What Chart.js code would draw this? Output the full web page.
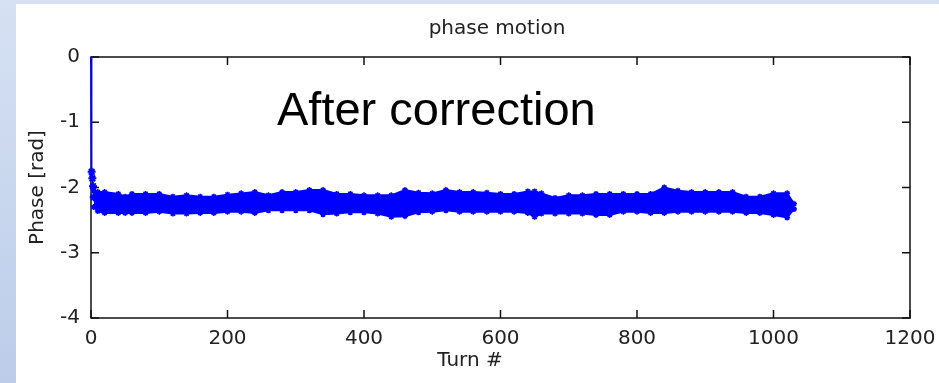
<!DOCTYPE html>
<html>
<head>
<meta charset="utf-8">
<script src="https://cdn.jsdelivr.net/npm/chart.js@4/dist/chart.umd.min.js"></script>
<style>
  html, body { margin: 0; padding: 0; }
  body {
    width: 939px; height: 383px; overflow: hidden;
    background: linear-gradient(180deg, #d6e1f3 0%, #c9d7ee 50%, #bccdea 100%);
  }
  #panel {
    position: absolute; left: 16px; top: 4px;
    width: 923px; height: 379px; background: #fff;
  }
</style>
</head>
<body>
<div id="panel"><canvas id="phaseChart" width="923" height="379"></canvas></div>
<script>
// first few turns, before the phase settles
const startTurns = [0, 1, 2, 3, 4];
const startPhase = [0, -1.76, -1.86, -1.98, -2.15];

// upper / lower edge of the phase band, sampled along the turns
const envTurns = [4, 10, 20, 40, 50, 60, 80, 100, 120, 140, 160, 180, 200, 220, 240,
  260, 280, 300, 320, 340, 360, 380, 400, 420, 440, 460, 480, 500, 520, 540, 560,
  580, 600, 620, 640, 650, 660, 680, 700, 720, 740, 760, 780, 800, 820, 840, 860,
  880, 900, 920, 940, 960, 980, 1000, 1020, 1030];
const phaseUpper = [-2.05, -2.07, -2.07, -2.10, -2.14, -2.10, -2.10, -2.10, -2.14, -2.12,
  -2.14, -2.14, -2.11, -2.09, -2.07, -2.12, -2.07, -2.07, -2.04, -2.04, -2.10, -2.10,
  -2.12, -2.12, -2.12, -2.04, -2.08, -2.09, -2.04, -2.07, -2.07, -2.08, -2.10, -2.10,
  -2.06, -2.06, -2.09, -2.16, -2.12, -2.12, -2.10, -2.10, -2.10, -2.10, -2.10, -2.00,
  -2.05, -2.07, -2.07, -2.07, -2.07, -2.14, -2.14, -2.09, -2.09, -2.25];
const phaseLower = [-2.30, -2.36, -2.39, -2.39, -2.39, -2.39, -2.39, -2.37, -2.40, -2.40,
  -2.39, -2.39, -2.37, -2.37, -2.39, -2.35, -2.35, -2.35, -2.35, -2.41, -2.40, -2.38,
  -2.38, -2.40, -2.45, -2.44, -2.38, -2.37, -2.35, -2.37, -2.37, -2.37, -2.37, -2.37,
  -2.39, -2.45, -2.40, -2.40, -2.40, -2.40, -2.42, -2.42, -2.37, -2.37, -2.39, -2.39,
  -2.37, -2.37, -2.37, -2.37, -2.37, -2.39, -2.39, -2.42, -2.46, -2.33];

const xTicks = [0, 200, 400, 600, 800, 1000, 1200];
const yTicks = [0, -1, -2, -3, -4];

const BLUE = "#0000ff";
const FONT = "'DejaVu Sans', sans-serif";

const toPoints = (xs, ys) => xs.map((x, i) => ({ x: x, y: ys[i] }));

// box around the plot with inward ticks on all four sides, plus the free texts
const axesBox = {
  id: "axesBox",
  beforeDatasetsDraw(chart) {
    const { ctx, chartArea: a, scales } = chart;
    const len = 8;
    ctx.save();
    ctx.strokeStyle = "#111";
    ctx.lineWidth = 1.5;
    ctx.strokeRect(a.left, a.top, a.right - a.left, a.bottom - a.top);
    ctx.beginPath();
    xTicks.forEach(v => {
      const px = scales.x.getPixelForValue(v);
      ctx.moveTo(px, a.bottom); ctx.lineTo(px, a.bottom - len);
      ctx.moveTo(px, a.top); ctx.lineTo(px, a.top + len);
    });
    yTicks.forEach(v => {
      const py = scales.y.getPixelForValue(v);
      ctx.moveTo(a.left, py); ctx.lineTo(a.left + len, py);
      ctx.moveTo(a.right, py); ctx.lineTo(a.right - len, py);
    });
    ctx.stroke();
    ctx.restore();
  },
  afterDraw(chart) {
    const { ctx } = chart;
    ctx.save();
    ctx.fillStyle = "#222";
    ctx.font = "20px " + FONT;
    ctx.textAlign = "center";
    ctx.textBaseline = "middle";
    ctx.fillText("phase motion", 481, 25);
    ctx.fillText("Turn #", 454, 357);
    ctx.fillStyle = "#000";
    ctx.font = "47px 'Liberation Sans', Arial, sans-serif";
    ctx.textAlign = "left";
    ctx.textBaseline = "alphabetic";
    ctx.fillText("After correction", 261, 121);
    ctx.restore();
  }
};

new Chart(document.getElementById("phaseChart"), {
  type: "line",
  data: {
    datasets: [
      {
        data: toPoints(envTurns, phaseUpper),
        borderColor: BLUE, backgroundColor: BLUE, borderWidth: 2,
        pointStyle: "star", pointRadius: 3, pointBorderWidth: 1.5,
        fill: false, tension: 0
      },
      {
        data: toPoints(envTurns, phaseLower),
        borderColor: BLUE, backgroundColor: BLUE, borderWidth: 2,
        pointStyle: "star", pointRadius: 3, pointBorderWidth: 1.5,
        fill: "-1", tension: 0
      },
      {
        data: toPoints(startTurns, startPhase),
        borderColor: BLUE, backgroundColor: BLUE, borderWidth: 1.5,
        pointStyle: "star", pointRadius: [0, 4, 4, 4, 4], pointBorderWidth: 2,
        pointBorderColor: BLUE, fill: false, clip: 6
      }
    ]
  },
  options: {
    responsive: false,
    animation: false,
    layout: { padding: { top: 53, right: 29, left: 0, bottom: 0 } },
    plugins: { legend: { display: false }, tooltip: { enabled: false } },
    scales: {
      x: {
        type: "linear", min: 0, max: 1200,
        afterBuildTicks: s => { s.ticks = xTicks.map(v => ({ value: v })); },
        afterFit: s => { s.height = 65; s.paddingLeft = 0; s.paddingRight = 0; },
        grid: { display: false, drawTicks: false },
        border: { display: false },
        ticks: {
          color: "#222", padding: 9, font: { family: FONT, size: 20 },
          callback: v => String(v)
        }
      },
      y: {
        type: "linear", min: -4, max: 0,
        afterBuildTicks: s => { s.ticks = yTicks.map(v => ({ value: v })); },
        afterFit: s => { s.width = 75; },
        grid: { display: false, drawTicks: false },
        border: { display: false },
        ticks: {
          color: "#222", padding: 11, font: { family: FONT, size: 20 },
          callback: v => String(v)
        },
        title: {
          display: true, text: "Phase [rad]", color: "#222",
          padding: { top: 10, bottom: 0 }, font: { family: FONT, size: 20 }
        }
      }
    }
  },
  plugins: [axesBox]
});
</script>
</body>
</html>
